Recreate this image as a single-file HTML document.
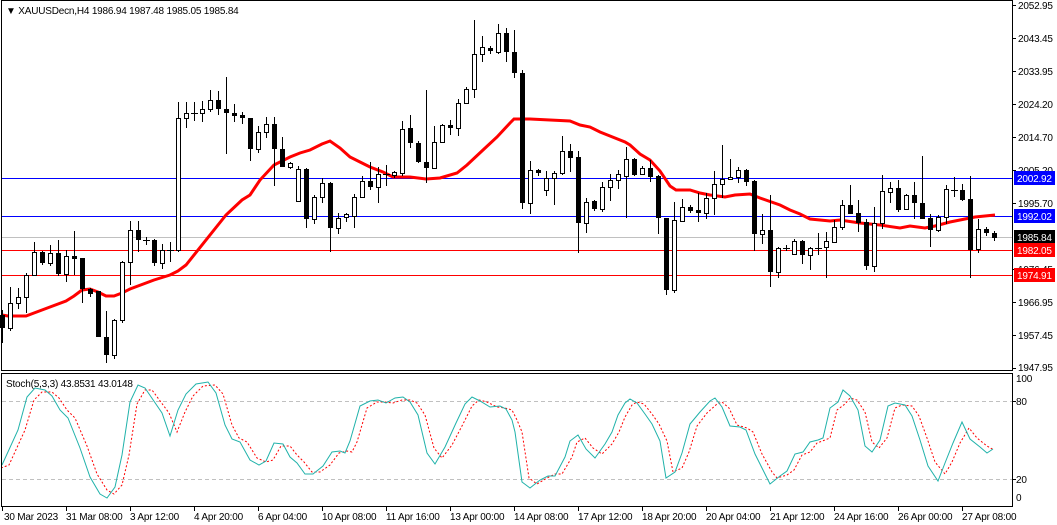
<!DOCTYPE html>
<html><head><meta charset="utf-8"><style>
body{margin:0;background:#fff;}
svg{display:block;font-family:"Liberation Sans",sans-serif;font-size:10px;letter-spacing:-0.2px;}
</style></head><body>
<svg width="1057" height="525" viewBox="0 0 1057 525" xmlns="http://www.w3.org/2000/svg">
<rect width="1057" height="525" fill="#fff"/>
<defs>
<clipPath id="cm"><rect x="2" y="1" width="1010" height="369"/></clipPath>
<clipPath id="cs"><rect x="2" y="374" width="1010" height="132"/></clipPath>
</defs>
<g shape-rendering="crispEdges">
<line x1="2" y1="178.5" x2="1012" y2="178.5" stroke="#0000ff"/>
<line x1="2" y1="216.5" x2="1012" y2="216.5" stroke="#0000ff"/>
<line x1="2" y1="237.5" x2="1012" y2="237.5" stroke="#c0c0c0"/>
<line x1="2" y1="250.5" x2="1012" y2="250.5" stroke="#ff0000"/>
<line x1="2" y1="275.5" x2="1012" y2="275.5" stroke="#ff0000"/>
</g>
<polyline clip-path="url(#cm)" fill="none" stroke="#ff0000" stroke-width="3" points="2,315 8,316 26,316 34,313 50,307 66,301 74,296 82,290 90,289 98,292 106,296 114,296 122,293 130,289 154,280 170,275 178,271 186,265 226,215 242,200 250,195 260,180 274,165 290,157 300,153 310,150 322,144 330,141 340,148 350,157 360,162 370,167 383,172 393,177 410,177 426,179 440,178 457,173 467,165 483,150 497,137 510,123 514,119 530,119 550,120 570,121 580,125 590,127 600,132 610,136 625,142 630,145 640,154 650,160 660,171 670,186 676,190 690,190 700,193 710,195 725,197 735,195 750,194 760,198 780,205 790,210 800,214 810,219 820,220 830,221 840,220 860,223 880,225 900,228 910,226 925,228 935,226 950,222 960,220 975,217 995,215"/>
<path fill="none" stroke="#000" stroke-width="1" shape-rendering="crispEdges" d="
M2.5 310V343M10.5 287V331M18.5 288V309M26.5 273V313M34.5 242V275M42.5 251V265M50.5 245V266M58.5 240V276M66.5 250V282M74.5 231V275M82.5 258V303M90.5 288V297M98.5 291V337M106.5 311V363M114.5 319V359M122.5 261V323M130.5 221V285M138.5 221V252M146.5 237V245M154.5 239V266M162.5 244V269M170.5 242V262M178.5 102V252M186.5 102V128M194.5 102V121M202.5 101V122M210.5 90V112M218.5 91V115M226.5 77V154M234.5 104V122M242.5 112V124M250.5 118V161M258.5 126V153M266.5 117V138M274.5 117V186M282.5 137V167M290.5 162V169M298.5 166V202M306.5 168V228M314.5 195V224M322.5 178V203M330.5 182V252M338.5 213V234M346.5 213V222M354.5 194V228M362.5 176V198M370.5 162V190M378.5 167V203M386.5 165V186M394.5 171V178M402.5 121V176M410.5 115V148M418.5 141V163M426.5 90V183M434.5 126V169M442.5 124V143M450.5 120V135M458.5 99V136M466.5 87V104M474.5 20V98M482.5 36V62M490.5 46V54M498.5 24V54M506.5 28V62M514.5 30V78M522.5 70V209M530.5 161V214M538.5 169V176M546.5 171V196M554.5 171V205M562.5 136V175M570.5 144V172M578.5 151V253M586.5 198V233M594.5 200V211M602.5 182V212M610.5 174V201M618.5 170V189M626.5 147V218M634.5 158V176M642.5 166V175M650.5 160V182M658.5 175V234M666.5 218V295M674.5 202V293M682.5 199V222M690.5 205V213M698.5 193V222M706.5 193V219M714.5 171V215M722.5 145V198M730.5 159V180M738.5 167V183M746.5 169V186M754.5 180V251M762.5 214V244M770.5 195V287M778.5 247V278M786.5 245V251M794.5 239V255M802.5 240V264M810.5 247V270M818.5 233V255M826.5 232V278M834.5 220V242M842.5 200V230M850.5 185V214M858.5 200V232M866.5 219V270M874.5 207V272M882.5 175V229M890.5 182V203M898.5 180V212M906.5 194V210M914.5 182V219M922.5 156V219M930.5 214V247M938.5 215V232M946.5 185V224M954.5 177V197M962.5 184V201M970.5 176V278M978.5 219V253M986.5 227V236M994.5 231V241
M143 240.5H150M167 250.5H174M191 113.5H198M383 174.5H390M783 248.5H790M815 248.5H822M951 190.5H958"/>
<g fill="#000" shape-rendering="crispEdges">
<rect x="0" y="315" width="5" height="13"/><rect x="40" y="252" width="5" height="11"/><rect x="56" y="253" width="5" height="21"/><rect x="72" y="256" width="5" height="3"/><rect x="80" y="258" width="5" height="31"/><rect x="88" y="289" width="5" height="5"/><rect x="96" y="291" width="5" height="46"/><rect x="104" y="337" width="5" height="18"/><rect x="136" y="230" width="5" height="10"/><rect x="152" y="240" width="5" height="23"/><rect x="216" y="100" width="5" height="9"/><rect x="224" y="109" width="5" height="4"/><rect x="232" y="113" width="5" height="3"/><rect x="240" y="115" width="5" height="3"/><rect x="248" y="118" width="5" height="31"/><rect x="272" y="124" width="5" height="25"/><rect x="280" y="149" width="5" height="18"/><rect x="304" y="169" width="5" height="50"/><rect x="328" y="183" width="5" height="45"/><rect x="368" y="181" width="5" height="6"/><rect x="408" y="128" width="5" height="15"/><rect x="416" y="143" width="5" height="19"/><rect x="424" y="162" width="5" height="6"/><rect x="448" y="125" width="5" height="3"/><rect x="488" y="48" width="5" height="3"/><rect x="504" y="33" width="5" height="19"/><rect x="512" y="52" width="5" height="21"/><rect x="520" y="73" width="5" height="130"/><rect x="536" y="170" width="5" height="3"/><rect x="568" y="151" width="5" height="7"/><rect x="576" y="157" width="5" height="66"/><rect x="592" y="201" width="5" height="8"/><rect x="632" y="159" width="5" height="16"/><rect x="648" y="168" width="5" height="9"/><rect x="656" y="176" width="5" height="42"/><rect x="664" y="218" width="5" height="72"/><rect x="688" y="207" width="5" height="4"/><rect x="696" y="210" width="5" height="3"/><rect x="744" y="170" width="5" height="12"/><rect x="752" y="181" width="5" height="53"/><rect x="768" y="230" width="5" height="42"/><rect x="800" y="241" width="5" height="14"/><rect x="848" y="205" width="5" height="9"/><rect x="856" y="213" width="5" height="10"/><rect x="864" y="222" width="5" height="44"/><rect x="896" y="188" width="5" height="22"/><rect x="912" y="195" width="5" height="8"/><rect x="920" y="203" width="5" height="16"/><rect x="928" y="218" width="5" height="12"/><rect x="960" y="190" width="5" height="10"/><rect x="968" y="199" width="5" height="51"/><rect x="984" y="229" width="5" height="4"/><rect x="992" y="233" width="5" height="5"/>
</g>
<g fill="#fff" stroke="#000" shape-rendering="crispEdges">
<rect x="8.5" y="303.5" width="4" height="25"/><rect x="16.5" y="297.5" width="4" height="6"/><rect x="24.5" y="275.5" width="4" height="22"/><rect x="32.5" y="252.5" width="4" height="23"/><rect x="48.5" y="253.5" width="4" height="10"/><rect x="64.5" y="256.5" width="4" height="18"/><rect x="112.5" y="320.5" width="4" height="35"/><rect x="120.5" y="262.5" width="4" height="58"/><rect x="128.5" y="230.5" width="4" height="32"/><rect x="160.5" y="250.5" width="4" height="13"/><rect x="176.5" y="118.5" width="4" height="132"/><rect x="184.5" y="113.5" width="4" height="5"/><rect x="200.5" y="109.5" width="4" height="4"/><rect x="208.5" y="100.5" width="4" height="9"/><rect x="256.5" y="132.5" width="4" height="17"/><rect x="264.5" y="124.5" width="4" height="8"/><rect x="288.5" y="163.5" width="4" height="4"/><rect x="296.5" y="169.5" width="4" height="32"/><rect x="312.5" y="197.5" width="4" height="22"/><rect x="320.5" y="183.5" width="4" height="14"/><rect x="336.5" y="218.5" width="4" height="10"/><rect x="344.5" y="214.5" width="4" height="3"/><rect x="352.5" y="197.5" width="4" height="19"/><rect x="360.5" y="181.5" width="4" height="16"/><rect x="376.5" y="174.5" width="4" height="13"/><rect x="392.5" y="172.5" width="4" height="3"/><rect x="400.5" y="129.5" width="4" height="44"/><rect x="432.5" y="142.5" width="4" height="26"/><rect x="440.5" y="125.5" width="4" height="17"/><rect x="456.5" y="103.5" width="4" height="25"/><rect x="464.5" y="89.5" width="4" height="14"/><rect x="472.5" y="54.5" width="4" height="35"/><rect x="480.5" y="47.5" width="4" height="7"/><rect x="496.5" y="33.5" width="4" height="19"/><rect x="528.5" y="170.5" width="4" height="33"/><rect x="544.5" y="178.5" width="4" height="12"/><rect x="552.5" y="173.5" width="4" height="5"/><rect x="560.5" y="151.5" width="4" height="22"/><rect x="584.5" y="202.5" width="4" height="21"/><rect x="600.5" y="187.5" width="4" height="22"/><rect x="608.5" y="180.5" width="4" height="7"/><rect x="616.5" y="174.5" width="4" height="6"/><rect x="624.5" y="159.5" width="4" height="17"/><rect x="640.5" y="168.5" width="4" height="6"/><rect x="672.5" y="220.5" width="4" height="70"/><rect x="680.5" y="207.5" width="4" height="14"/><rect x="704.5" y="198.5" width="4" height="15"/><rect x="712.5" y="184.5" width="4" height="14"/><rect x="720.5" y="179.5" width="4" height="5"/><rect x="728.5" y="177.5" width="4" height="2"/><rect x="736.5" y="170.5" width="4" height="7"/><rect x="760.5" y="230.5" width="4" height="4"/><rect x="776.5" y="248.5" width="4" height="24"/><rect x="792.5" y="241.5" width="4" height="13"/><rect x="808.5" y="248.5" width="4" height="7"/><rect x="824.5" y="241.5" width="4" height="6"/><rect x="832.5" y="227.5" width="4" height="15"/><rect x="840.5" y="205.5" width="4" height="22"/><rect x="872.5" y="223.5" width="4" height="43"/><rect x="880.5" y="191.5" width="4" height="32"/><rect x="888.5" y="188.5" width="4" height="4"/><rect x="904.5" y="195.5" width="4" height="14"/><rect x="936.5" y="217.5" width="4" height="13"/><rect x="944.5" y="189.5" width="4" height="28"/><rect x="976.5" y="229.5" width="4" height="20"/>
</g>
<g fill="none" stroke="#000" shape-rendering="crispEdges">
<rect x="1.5" y="0.5" width="1011" height="370"/>
<rect x="1.5" y="373.5" width="1011" height="133"/>
</g>
<text x="6" y="14" fill="#000">▼ XAUUSDecn,H4  1986.94 1987.48 1985.05 1985.84</text>
<g stroke="#000" shape-rendering="crispEdges">
<line x1="1012" y1="5.5" x2="1016" y2="5.5"/><line x1="1012" y1="38.5" x2="1016" y2="38.5"/><line x1="1012" y1="71.5" x2="1016" y2="71.5"/><line x1="1012" y1="104.5" x2="1016" y2="104.5"/><line x1="1012" y1="137.5" x2="1016" y2="137.5"/><line x1="1012" y1="170.5" x2="1016" y2="170.5"/><line x1="1012" y1="203.5" x2="1016" y2="203.5"/><line x1="1012" y1="269.5" x2="1016" y2="269.5"/><line x1="1012" y1="302.5" x2="1016" y2="302.5"/><line x1="1012" y1="335.5" x2="1016" y2="335.5"/><line x1="1012" y1="368.5" x2="1016" y2="368.5"/>
<line x1="1012" y1="401.5" x2="1016" y2="401.5"/><line x1="1012" y1="479.5" x2="1016" y2="479.5"/>
</g>
<g fill="#000">
<text x="1018" y="9">2052.95</text><text x="1018" y="42">2043.45</text><text x="1018" y="75">2033.95</text><text x="1018" y="108">2024.20</text><text x="1018" y="141">2014.70</text><text x="1018" y="174">2005.20</text><text x="1018" y="207">1995.70</text><text x="1018" y="273">1976.45</text><text x="1018" y="306">1966.95</text><text x="1018" y="339">1957.45</text><text x="1018" y="371">1947.95</text>
<text x="1016" y="382">100</text><text x="1016" y="405">80</text><text x="1016" y="483">20</text><text x="1016" y="501">0</text>
</g>
<rect x="1014" y="171" width="41" height="14" fill="#0000ff"/><text x="1017" y="182" fill="#fff">2002.92</text>
<rect x="1014" y="209" width="41" height="14" fill="#0000ff"/><text x="1017" y="220" fill="#fff">1992.02</text>
<rect x="1014" y="230" width="41" height="14" fill="#000"/><text x="1017" y="241" fill="#fff">1985.84</text>
<rect x="1014" y="243" width="41" height="14" fill="#ff0000"/><text x="1017" y="254" fill="#fff">1982.05</text>
<rect x="1014" y="268" width="41" height="14" fill="#ff0000"/><text x="1017" y="279" fill="#fff">1974.91</text>
<g stroke="#c0c0c0" stroke-dasharray="4,3" shape-rendering="crispEdges">
<line x1="2" y1="401.5" x2="1012" y2="401.5"/><line x1="2" y1="479.5" x2="1012" y2="479.5"/>
</g>
<g clip-path="url(#cs)">
<polyline transform="translate(7,0)" fill="none" stroke="#ff0000" stroke-dasharray="2,2" points="-6,468 2,465 18,430 27,400 35,392 45,392 52,398 60,410 68,418 80,446 90,474 100,490 107,494 115,485 122,455 130,404 138,390 145,390 162,413 170,432 178,412 186,396 196,386 208,385 216,394 225,425 232,438 240,442 250,458 259,462 266,460 274,446 283,446 290,455 297,462 305,472 313,472 323,465 332,453 340,451 345,452 350,442 360,408 370,402 378,402 386,403 395,400 403,400 410,403 418,415 427,448 435,458 445,445 456,424 465,406 472,400 480,402 490,407 498,408 505,410 510,420 515,432 522,478 530,484 540,478 548,474 555,474 565,457 570,442 578,438 586,448 595,454 605,444 612,432 618,417 625,405 630,402 637,404 645,414 652,424 660,441 666,472 675,468 682,452 690,426 700,413 710,404 715,402 722,408 730,425 740,428 746,432 755,454 765,472 770,478 780,475 787,470 795,455 803,452 810,443 818,440 823,438 830,410 838,404 843,398 850,400 858,412 865,442 872,448 880,438 888,408 895,405 905,406 912,416 920,438 928,462 938,474 945,462 953,443 962,428 970,438 980,446 987,450"/>
<polyline fill="none" stroke="#20b2aa" stroke-width="1" points="2,465 18,430 27,397 35,388 45,390 52,396 60,410 68,418 80,448 90,477 100,494 107,498 115,487 122,455 130,402 138,385 145,388 162,413 170,436 178,410 186,394 196,384 208,382 216,393 225,425 232,439 240,442 250,460 259,465 266,461 274,443 283,444 290,457 297,463 305,474 313,474 323,466 332,452 340,451 345,453 350,441 360,406 370,401 378,400 386,403 395,398 403,397 410,402 418,415 427,453 435,464 445,447 456,423 465,404 472,397 480,401 490,407 500,406 506,409 512,420 515,432 522,482 530,488 540,480 548,476 555,476 565,457 570,441 578,435 586,449 595,458 605,444 612,432 618,415 625,403 630,399 637,403 645,414 652,424 660,441 666,478 675,472 682,453 690,424 700,412 710,401 715,398 722,407 730,426 740,427 746,430 755,454 765,474 770,484 780,476 787,471 795,454 803,452 810,442 818,440 823,438 830,408 838,402 843,390 850,396 858,410 865,446 872,452 880,440 888,406 895,403 905,405 912,416 920,440 928,466 938,481 945,463 953,443 962,422 970,439 980,447 987,453 993,449"/>
</g>
<text x="6" y="387" fill="#000">Stoch(5,3,3) 43.8531 43.0148</text>
<g stroke="#000" shape-rendering="crispEdges">
<path d="M2.5 507V511M66.5 507V511M130.5 507V511M194.5 507V511M258.5 507V511M322.5 507V511M386.5 507V511M450.5 507V511M514.5 507V511M578.5 507V511M642.5 507V511M706.5 507V511M770.5 507V511M834.5 507V511M898.5 507V511M962.5 507V511"/>
</g>
<g fill="#000">
<text x="4" y="520">30 Mar 2023</text><text x="66" y="520">31 Mar 08:00</text><text x="130" y="520">3 Apr 12:00</text><text x="194" y="520">4 Apr 20:00</text><text x="258" y="520">6 Apr 04:00</text><text x="322" y="520">10 Apr 08:00</text><text x="386" y="520">11 Apr 16:00</text><text x="450" y="520">13 Apr 00:00</text><text x="514" y="520">14 Apr 08:00</text><text x="578" y="520">17 Apr 12:00</text><text x="642" y="520">18 Apr 20:00</text><text x="706" y="520">20 Apr 04:00</text><text x="770" y="520">21 Apr 12:00</text><text x="834" y="520">24 Apr 16:00</text><text x="898" y="520">26 Apr 00:00</text><text x="962" y="520">27 Apr 08:00</text>
</g>
</svg>
</body></html>
